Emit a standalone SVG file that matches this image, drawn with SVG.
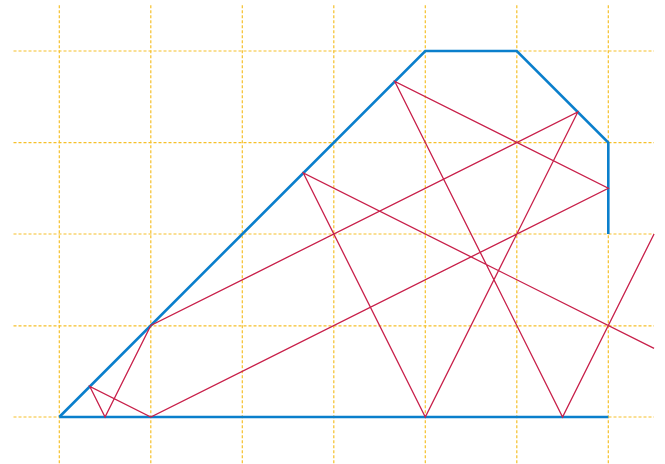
<svg xmlns="http://www.w3.org/2000/svg" width="665" height="464" viewBox="0 0 665 464">
<style>
.grid{stroke:#F5C02A;stroke-width:1.2;stroke-dasharray:3,2;fill:none}
.wall{stroke:#0A7FCC;stroke-width:2.6;fill:none;stroke-linejoin:miter}
.ray{stroke:#C8204A;stroke-width:1.3;fill:none;stroke-linejoin:miter}
</style>
<rect width="665" height="464" fill="#ffffff"/>
<g id="grid" class="grid">
<line x1="59.3" y1="5.25" x2="59.3" y2="464"/>
<line x1="150.8" y1="5.25" x2="150.8" y2="464"/>
<line x1="242.3" y1="5.25" x2="242.3" y2="464"/>
<line x1="333.8" y1="5.25" x2="333.8" y2="464"/>
<line x1="425.3" y1="5.25" x2="425.3" y2="464"/>
<line x1="516.8" y1="5.25" x2="516.8" y2="464"/>
<line x1="608.3" y1="5.25" x2="608.3" y2="464"/>
<line x1="13.5" y1="51" x2="654" y2="51"/>
<line x1="13.5" y1="142.7" x2="654" y2="142.7"/>
<line x1="13.5" y1="234" x2="654" y2="234"/>
<line x1="13.5" y1="325.8" x2="654" y2="325.8"/>
<line x1="13.5" y1="417" x2="654" y2="417"/>
</g>
<g id="walls" class="wall">
<polyline points="59.3,417 425.3,51 516.8,51 608.3,142.5 608.3,234"/>
<line x1="59.3" y1="417" x2="608.3" y2="417"/>
</g>
<g id="ray" class="ray">
<polyline points="654.05,234 562.55,417 394.8,81.5 608.3,188.25 150.8,417 89.8,386.5 105.05,417 150.8,325.5 577.8,112 425.3,417 303.3,173 654.05,348.4"/>
</g>
</svg>
